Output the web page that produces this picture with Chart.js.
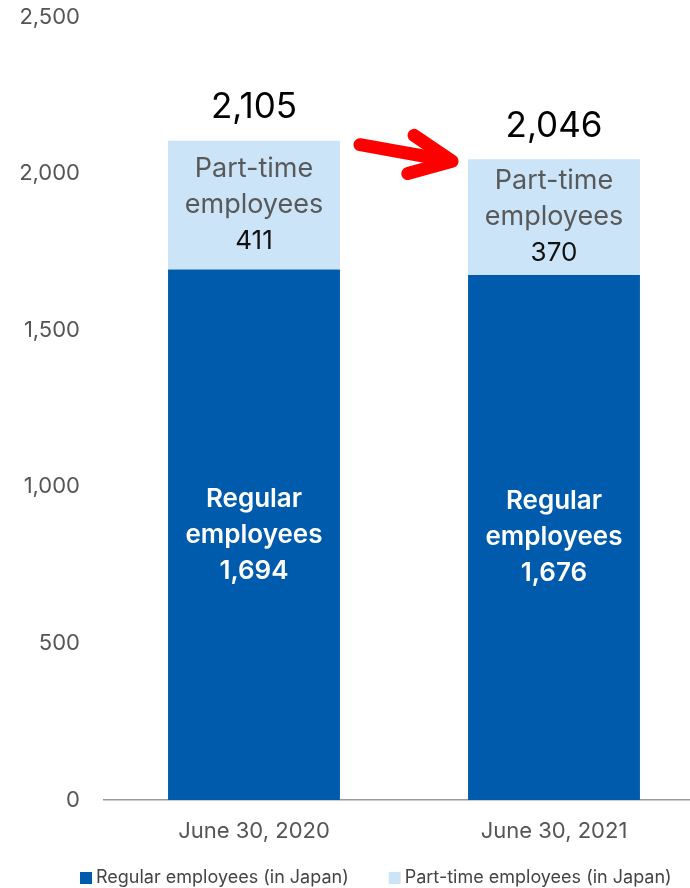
<!DOCTYPE html>
<html>
<head>
<meta charset="utf-8">
<script src="https://cdn.jsdelivr.net/npm/chart.js@4"></script>
<style>
  html, body { margin: 0; padding: 0; background: #fff; overflow: hidden; }
  #wrap { width: 704px; height: 888px; }
</style>
</head>
<body>
<div id="wrap"><canvas id="myChart"></canvas></div>
<script>
const categories = ["June 30, 2020", "June 30, 2021"];
const regular = [1694, 1676];
const partTime = [411, 370];
const yTicks = [0, 500, 1000, 1500, 2000, 2500];
const seriesNames = ["Regular employees (in Japan)", "Part-time employees (in Japan)"];
const segmentNames = [["Regular", "employees"], ["Part-time", "employees"]];

const FONT = "Inter, sans-serif";
const BLUE = "#005bac";
const LIGHT = "#cce4f7";
const fmt = (v) => v.toLocaleString("en-US");

// labels inside each segment, totals above, arrow between the bars, legend
const annotate = {
  id: "annotate",
  afterDatasetsDraw(chart) {
    const c = chart.ctx;
    const regMeta = chart.getDatasetMeta(0);
    const ptMeta = chart.getDatasetMeta(1);
    c.save();
    c.textAlign = "center";
    c.textBaseline = "middle";

    regMeta.data.forEach((bar, i) => {
      const mid = (bar.y + bar.base) / 2;
      c.fillStyle = "#fff";
      c.font = "600 26px " + FONT;
      const lines = [...segmentNames[0], fmt(regular[i])];
      lines.forEach((t, k) => c.fillText(t, bar.x, mid + (k - 1) * 36));
    });

    ptMeta.data.forEach((bar, i) => {
      const mid = (bar.y + bar.base) / 2;
      c.font = "27px " + FONT;
      c.fillStyle = "#595959";
      c.fillText(segmentNames[1][0], bar.x, mid - 36);
      c.fillText(segmentNames[1][1], bar.x, mid);
      c.fillStyle = "#111";
      c.font = "26px " + FONT;
      c.fillText(fmt(partTime[i]), bar.x, mid + 36);

      c.font = "35px " + FONT;
      c.fillStyle = "#000";
      c.fillText(fmt(regular[i] + partTime[i]), bar.x, bar.y - 33);
    });

    // red arrow from first total to second
    const a = ptMeta.data[0], b = ptMeta.data[1];
    const x0 = a.x + a.width / 2 + 20, y0 = a.y + 4;
    const x1 = b.x - b.width / 2 - 16, y1 = b.y + 2;
    const ang = Math.atan2(y1 - y0, x1 - x0);
    c.strokeStyle = "#ff0000";
    c.lineWidth = 13;
    c.lineCap = "round";
    c.lineJoin = "round";
    c.beginPath();
    c.moveTo(x0, y0);
    c.lineTo(x1 - 4 * Math.cos(ang), y1 - 4 * Math.sin(ang));
    c.stroke();
    c.beginPath();
    c.moveTo(x1 - 46 * Math.cos(ang - 0.45), y1 - 46 * Math.sin(ang - 0.45));
    c.lineTo(x1, y1);
    c.lineTo(x1 - 46 * Math.cos(ang + 0.42), y1 - 46 * Math.sin(ang + 0.42));
    c.stroke();

    // legend
    c.textAlign = "left";
    c.font = "18px " + FONT;
    let lx = 80;
    const ly = 878;
    chart.data.datasets.forEach((ds) => {
      c.fillStyle = ds.backgroundColor;
      c.fillRect(lx, ly - 6, 12, 12);
      c.fillStyle = "#444";
      c.fillText(ds.label, lx + 16, ly);
      lx += 16 + c.measureText(ds.label).width + 40;
    });
    c.restore();
  }
};

new Chart(document.getElementById("myChart"), {
  type: "bar",
  data: {
    labels: categories,
    datasets: [
      { label: seriesNames[0], data: regular, backgroundColor: BLUE },
      { label: seriesNames[1], data: partTime, backgroundColor: LIGHT }
    ]
  },
  options: {
    responsive: true,
    maintainAspectRatio: false,
    animation: false,
    devicePixelRatio: 1,
    layout: { padding: { top: 17, bottom: 40, left: 0, right: 0 } },
    datasets: { bar: { barPercentage: 0.573, categoryPercentage: 1 } },
    plugins: { legend: { display: false }, tooltip: { enabled: false } },
    scales: {
      x: {
        stacked: true,
        grid: { display: false, drawTicks: false },
        border: { display: true, color: "#999", width: 1.5 },
        ticks: { color: "#555", font: { family: FONT, size: 22 }, padding: 18 },
        afterFit(s) { s.height = 48; }
      },
      y: {
        stacked: true,
        min: 0,
        max: 2500,
        afterBuildTicks(s) { s.ticks = yTicks.map((v) => ({ value: v })); },
        grid: { display: false, drawTicks: false },
        border: { display: false },
        ticks: {
          color: "#555",
          font: { family: FONT, size: 22 },
          padding: 24,
          callback: (v) => fmt(v)
        },
        afterFit(s) {
          s.width = 104;
          s.paddingTop = 0;
          s.paddingBottom = 0;
        }
      }
    }
  },
  plugins: [annotate]
});
</script>
</body>
</html>
